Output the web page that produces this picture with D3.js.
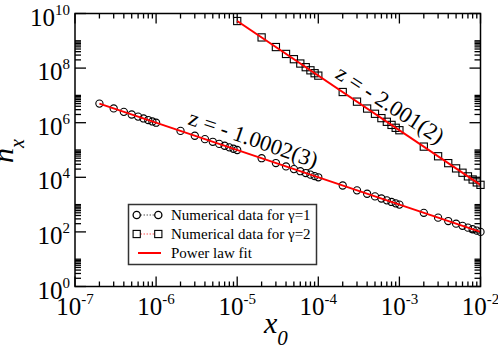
<!DOCTYPE html>
<html><head><meta charset="utf-8">
<script src="https://cdn.jsdelivr.net/npm/d3@7"></script>
<style>body{margin:0;background:#fff}svg{display:block}
text{font-family:"Liberation Serif","Times New Roman",Times,"DejaVu Serif",serif;}</style>
</head><body>
<svg id="c" width="498" height="348"></svg>
<script>
// ---- data ----
const circleX = [2e-7,3e-7,4e-7,5e-7,6e-7,7e-7,8e-7,9e-7,1e-6,
  2e-6,3e-6,4e-6,5e-6,6e-6,7e-6,8e-6,9e-6,1e-5,
  2e-5,3e-5,4e-5,5e-5,6e-5,7e-5,8e-5,9e-5,1e-4,
  2e-4,3e-4,4e-4,5e-4,6e-4,7e-4,8e-4,9e-4,1e-3,
  2e-3,3e-3,4e-3,5e-3,6e-3,7e-3,8e-3,9e-3,1e-2];
const circleY = [5.0e6,3.33e6,2.5e6,2.0e6,1.67e6,1.43e6,1.25e6,1.11e6,1.0e6,
  5.0e5,3.33e5,2.5e5,2.0e5,1.67e5,1.43e5,1.25e5,1.11e5,1.0e5,
  5.0e4,3.33e4,2.5e4,2.0e4,1.67e4,1.43e4,1.25e4,1.11e4,1.0e4,
  5.0e3,3.33e3,2.5e3,2.0e3,1.67e3,1.43e3,1.25e3,1.11e3,1.0e3,
  5.0e2,3.33e2,2.5e2,2.0e2,1.67e2,1.43e2,1.25e2,1.11e2,1.0e2];
const squareX = [1e-5,
  2e-5,3e-5,4e-5,5e-5,6e-5,7e-5,8e-5,9e-5,1e-4,
  2e-4,3e-4,4e-4,5e-4,6e-4,7e-4,8e-4,9e-4,1e-3,
  2e-3,3e-3,4e-3,5e-3,6e-3,7e-3,8e-3,9e-3,1e-2];
const squareY = [5.3e9,
  1.33e9,5.9e8,3.3e8,2.12e8,1.47e8,1.08e8,8.3e7,6.5e7,5.3e7,
  1.33e7,5.9e6,3.3e6,2.12e6,1.47e6,1.08e6,8.3e5,6.5e5,5.3e5,
  1.33e5,5.9e4,3.3e4,2.12e4,1.47e4,1.08e4,8.3e3,6.5e3,5.3e3];
const fitX1 = [2e-7, 1e-2], fitY1 = [5.0e6, 1.0e2];
const fitX2 = [1e-5, 1e-2], fitY2 = [5.3e9, 5.3e3];
const xTickVals = [1e-7,1e-6,1e-5,1e-4,1e-3,1e-2];
const xTickExp = ["-7","-6","-5","-4","-3","-2"];
const yTickVals = [1,1e2,1e4,1e6,1e8,1e10];
const yTickExp = ["0","2","4","6","8","10"];
const legendLabels = ["Numerical data for \u03B3=1","Numerical data for \u03B3=2","Power law fit"];
const annot1 = "z = - 1.0002(3)";
const annot2 = "z = - 2.001(2)";

// ---- layout ----
const L = 75, R = 480.5, T = 13.5, B = 286.5;
const x = d3.scaleLog().domain([1e-7,1e-2]).range([L,R]);
const y = d3.scaleLog().domain([1,1e10]).range([B,T]);
const svg = d3.select("#c");

// minor ticks
const xMinor = [];
xTickVals.slice(0,-1).forEach(v => { for (let k=2;k<=9;k++) xMinor.push(v*k); });
const yMinor = [];
yTickVals.slice(0,-1).forEach(v => { for (let k=2;k<=10;k++) yMinor.push(v*k); });

const ax = svg.append("g").attr("stroke","#000").attr("stroke-width",1.3);
xTickVals.forEach(v => {
  ax.append("line").attr("x1",x(v)).attr("x2",x(v)).attr("y1",B).attr("y2",B-10);
  ax.append("line").attr("x1",x(v)).attr("x2",x(v)).attr("y1",T).attr("y2",T+10);
});
xMinor.forEach(v => {
  ax.append("line").attr("x1",x(v)).attr("x2",x(v)).attr("y1",B).attr("y2",B-5);
  ax.append("line").attr("x1",x(v)).attr("x2",x(v)).attr("y1",T).attr("y2",T+5);
});
yTickVals.forEach(v => {
  ax.append("line").attr("y1",y(v)).attr("y2",y(v)).attr("x1",L).attr("x2",L+11);
  ax.append("line").attr("y1",y(v)).attr("y2",y(v)).attr("x1",R).attr("x2",R-11);
});
yMinor.forEach(v => {
  ax.append("line").attr("y1",y(v)).attr("y2",y(v)).attr("x1",L).attr("x2",L+6);
  ax.append("line").attr("y1",y(v)).attr("y2",y(v)).attr("x1",R).attr("x2",R-6);
});

// tick labels
xTickVals.forEach((v,i) => {
  const t = svg.append("text").attr("x",x(v)).attr("y",315).attr("text-anchor","middle")
    .style("font-size","25px").attr("fill","#000");
  t.append("tspan").text("10");
  t.append("tspan").style("font-size","15px").attr("dy",-11).text(xTickExp[i]);
});
yTickVals.forEach((v,i) => {
  const t = svg.append("text").attr("x",70).attr("y",y(v)+12).attr("text-anchor","end")
    .style("font-size","25px").attr("fill","#000");
  t.append("tspan").text("10");
  t.append("tspan").style("font-size","15px").attr("dy",-11).text(yTickExp[i]);
});

// axis titles
const yt = svg.append("text").attr("transform","translate(13,163) rotate(-90)")
  .style("font-style","italic").style("font-size","30px").attr("fill","#000");
yt.append("tspan").text("n");
yt.append("tspan").style("font-size","20px").attr("dy",11).text("x");
const xt = svg.append("text").attr("x",264).attr("y",333)
  .style("font-style","italic").style("font-size","30px").attr("fill","#000");
xt.append("tspan").text("x");
xt.append("tspan").style("font-size","21px").attr("dy",12).text("0");

// data marks
const plot = svg.append("g");
plot.selectAll("circle.d").data(circleX).join("circle")
  .attr("cx",d=>x(d)).attr("cy",(d,i)=>y(circleY[i])).attr("r",3.6)
  .attr("fill","none").attr("stroke","#000").attr("stroke-width",1.1);
plot.selectAll("rect.d").data(squareX).join("rect")
  .attr("x",d=>x(d)-3.6).attr("y",(d,i)=>y(squareY[i])-3.6).attr("width",7.2).attr("height",7.2)
  .attr("fill","none").attr("stroke","#000").attr("stroke-width",1.1);

const line = d3.line().x(d=>x(d[0])).y(d=>y(d[1]));
plot.append("path").attr("d",line(fitX1.map((v,i)=>[v,fitY1[i]])))
  .attr("stroke","#ff0000").attr("stroke-width",2).attr("fill","none");
plot.append("path").attr("d",line(fitX2.map((v,i)=>[v,fitY2[i]])))
  .attr("stroke","#ff0000").attr("stroke-width",2).attr("fill","none");

// frame
svg.append("rect").attr("x",L).attr("y",T).attr("width",R-L).attr("height",B-T)
  .attr("fill","none").attr("stroke","#000").attr("stroke-width",1.5);

// annotations
svg.append("text").attr("transform","translate(187,124) rotate(19)")
  .style("font-size","22.5px").attr("fill","#000").text(annot1);
svg.append("text").attr("transform","translate(334,77) rotate(33)")
  .style("font-size","22.5px").attr("fill","#000").text(annot2);

// legend
const lg = svg.append("g");
lg.append("rect").attr("x",128.5).attr("y",204.5).attr("width",188).attr("height",60)
  .attr("fill","#fff").attr("stroke","#333").attr("stroke-width",1.5);
const rows = [215,234,253];
const lx1 = 136.7, lx2 = 158.3;
lg.append("line").attr("x1",lx1+4).attr("x2",lx2-4).attr("y1",rows[0]).attr("y2",rows[0])
  .attr("stroke","#000").attr("stroke-width",1).attr("stroke-dasharray","1,2");
[lx1,lx2].forEach(cx => lg.append("circle").attr("cx",cx).attr("cy",rows[0]).attr("r",3.6)
  .attr("fill","none").attr("stroke","#000").attr("stroke-width",1.3));
lg.append("line").attr("x1",lx1+4).attr("x2",lx2-4).attr("y1",rows[1]).attr("y2",rows[1])
  .attr("stroke","#ff0000").attr("stroke-width",1).attr("stroke-dasharray","1,2");
[lx1,lx2].forEach(cx => lg.append("rect").attr("x",cx-3.6).attr("y",rows[1]-3.6).attr("width",7.2).attr("height",7.2)
  .attr("fill","none").attr("stroke","#000").attr("stroke-width",1.1));
lg.append("line").attr("x1",138).attr("x2",161).attr("y1",rows[2]).attr("y2",rows[2])
  .attr("stroke","#ff0000").attr("stroke-width",2);
legendLabels.forEach((s,i) => lg.append("text").attr("x",171).attr("y",rows[i]+5)
  .style("font-size","15px").attr("fill","#000").text(s));
</script>
</body></html>
